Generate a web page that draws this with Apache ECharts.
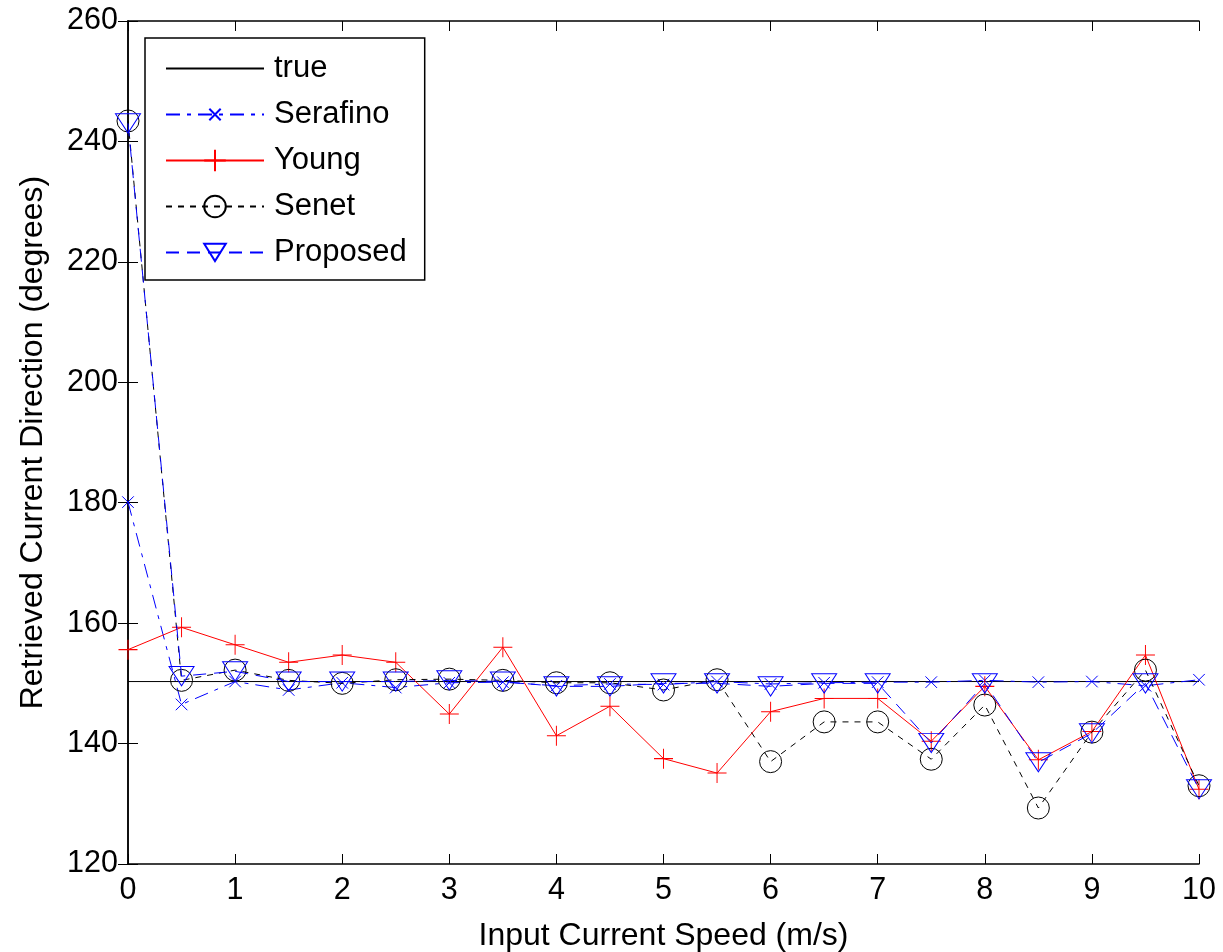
<!DOCTYPE html>
<html>
<head>
<meta charset="utf-8">
<title>Retrieved Current Direction</title>
<script src="https://cdn.jsdelivr.net/npm/echarts@6/dist/echarts.min.js"></script>
<style>
  html, body { margin: 0; padding: 0; background: #fff; }
  #chart { width: 1223px; height: 952px; }
</style>
</head>
<body>
<div id="chart"></div>
<script>
// Input current speeds (m/s)
const speeds = [0, 0.5, 1, 1.5, 2, 2.5, 3, 3.5, 4, 4.5, 5, 5.5, 6, 6.5, 7, 7.5, 8, 8.5, 9, 9.5, 10];

// True current direction (degrees)
const trueDirection = 150.3;

// Retrieved directions (degrees) per method
const serafino = [180.1, 146.5, 150.3, 148.9, 150.1, 149.3, 150.1, 150.2, 149.6, 149.9, 149.8,
                  150.3, 149.9, 150.1, 150.2, 150.2, 150.5, 150.2, 150.3, 149.6, 150.6];
const young    = [155.6, 159.3, 156.4, 153.5, 154.7, 153.5, 144.9, 156.0, 141.3, 146.2, 137.5,
                  135.1, 145.3, 147.5, 147.5, 140.4, 149.5, 137.3, 142.0, 154.7, 132.4];
const senet    = [243.4, 150.5, 152.2, 150.5, 150.0, 150.6, 150.7, 150.5, 150.1, 150.1, 148.9,
                  150.6, 137.0, 143.6, 143.6, 137.4, 146.4, 129.3, 141.9, 152.2, 133.0];
const proposed = [243.0, 151.2, 152.0, 150.3, 150.3, 150.3, 150.5, 150.3, 149.5, 149.5, 150.0,
                  150.0, 149.5, 150.0, 150.0, 140.1, 150.0, 136.9, 141.7, 150.0, 132.4];

const xTicks = { min: 0, max: 10, interval: 1 };
const yTicks = { min: 120, max: 260, interval: 20 };

const FONT = 'Liberation Sans, Arial, sans-serif';
const pairs = arr => arr.map((v, i) => [speeds[i], v]);

// Marker shapes (the bare move-to points pad the box so the glyph keeps a small size)
const crossX = 'path://M-4.5,-4.5M14.5,14.5M0,0L10,10M10,0L0,10';
const plus = 'path://M5,0L5,10M0,5L10,5';
const triDown = 'path://M5,-1M5,9M0,0L10,0L5,8Z';

const chart = echarts.init(document.getElementById('chart'), null, { renderer: 'canvas' });

const baseAxisLine = { show: true, lineStyle: { color: '#000', width: 1.5 } };
const innerTicks = { show: true, inside: true, length: 10, lineStyle: { color: '#000', width: 1 } };

chart.setOption({
  backgroundColor: '#fff',
  animation: false,
  textStyle: { fontFamily: FONT },
  grid: { left: 128, top: 21, width: 1071, height: 843, containLabel: false, outerBoundsMode: 'none' },
  xAxis: [
    {
      type: 'value', position: 'bottom', ...xTicks,
      name: 'Input Current Speed (m/s)', nameLocation: 'middle', nameGap: 56,
      nameTextStyle: { fontFamily: FONT, fontSize: 32, color: '#000', verticalAlign: 'top' },
      axisLine: baseAxisLine, axisTick: innerTicks, splitLine: { show: false },
      axisLabel: { fontFamily: FONT, fontSize: 30.5, color: '#000', margin: 11 }
    },
    {
      type: 'value', position: 'top', ...xTicks,
      axisLine: baseAxisLine, axisTick: innerTicks, splitLine: { show: false },
      axisLabel: { show: false }
    }
  ],
  yAxis: [
    {
      type: 'value', position: 'left', ...yTicks,
      name: 'Retrieved Current Direction (degrees)', nameLocation: 'middle', nameGap: 79,
      nameTextStyle: { fontFamily: FONT, fontSize: 32, color: '#000' },
      axisLine: baseAxisLine, axisTick: innerTicks, splitLine: { show: false },
      axisLabel: { fontFamily: FONT, fontSize: 30.5, color: '#000', margin: 10 }
    },
    {
      type: 'value', position: 'right', ...yTicks,
      axisLine: baseAxisLine, axisTick: innerTicks, splitLine: { show: false },
      axisLabel: { show: false }
    }
  ],
  legend: {
    orient: 'vertical',
    left: 145, top: 38,
    padding: [15, 18, 12, 20],
    itemWidth: 98, itemHeight: 27, itemGap: 15,
    backgroundColor: '#fff',
    borderColor: '#000', borderWidth: 1.5,
    textStyle: { fontFamily: FONT, fontSize: 31, color: '#000', padding: [0, 0, 0, 5] },
    data: ['true', 'Serafino', 'Young', 'Senet', 'Proposed']
  },
  series: [
    {
      name: 'true', type: 'line',
      data: [[xTicks.min, trueDirection], [xTicks.max, trueDirection]],
      symbol: 'none', lineStyle: { color: '#000', width: 1, type: 'solid' },
      itemStyle: { color: 'none', borderWidth: 0, opacity: 0 }, z: 2
    },
    {
      name: 'Serafino', type: 'line', data: pairs(serafino),
      symbol: crossX, symbolSize: 22,
      lineStyle: { color: '#0000ff', width: 1, type: [14, 7, 4, 7] },
      itemStyle: { color: 'none', borderColor: '#0000ff', borderWidth: 1 }, z: 3
    },
    {
      name: 'Young', type: 'line', data: pairs(young),
      symbol: plus, symbolSize: [19, 20],
      lineStyle: { color: '#ff0000', width: 1, type: 'solid' },
      itemStyle: { color: 'none', borderColor: '#ff0000', borderWidth: 1 }, z: 4
    },
    {
      name: 'Senet', type: 'line', data: pairs(senet),
      symbol: 'circle', symbolSize: 22,
      lineStyle: { color: '#000', width: 1, type: [6, 6] },
      itemStyle: { color: 'none', borderColor: '#000', borderWidth: 1 }, z: 5
    },
    {
      name: 'Proposed', type: 'line', data: pairs(proposed),
      symbol: triDown, symbolSize: [25, 24],
      lineStyle: { color: '#0000ff', width: 1, type: [13, 8] },
      itemStyle: { color: 'none', borderColor: '#0000ff', borderWidth: 1 }, z: 6
    }
  ]
});
</script>
</body>
</html>
